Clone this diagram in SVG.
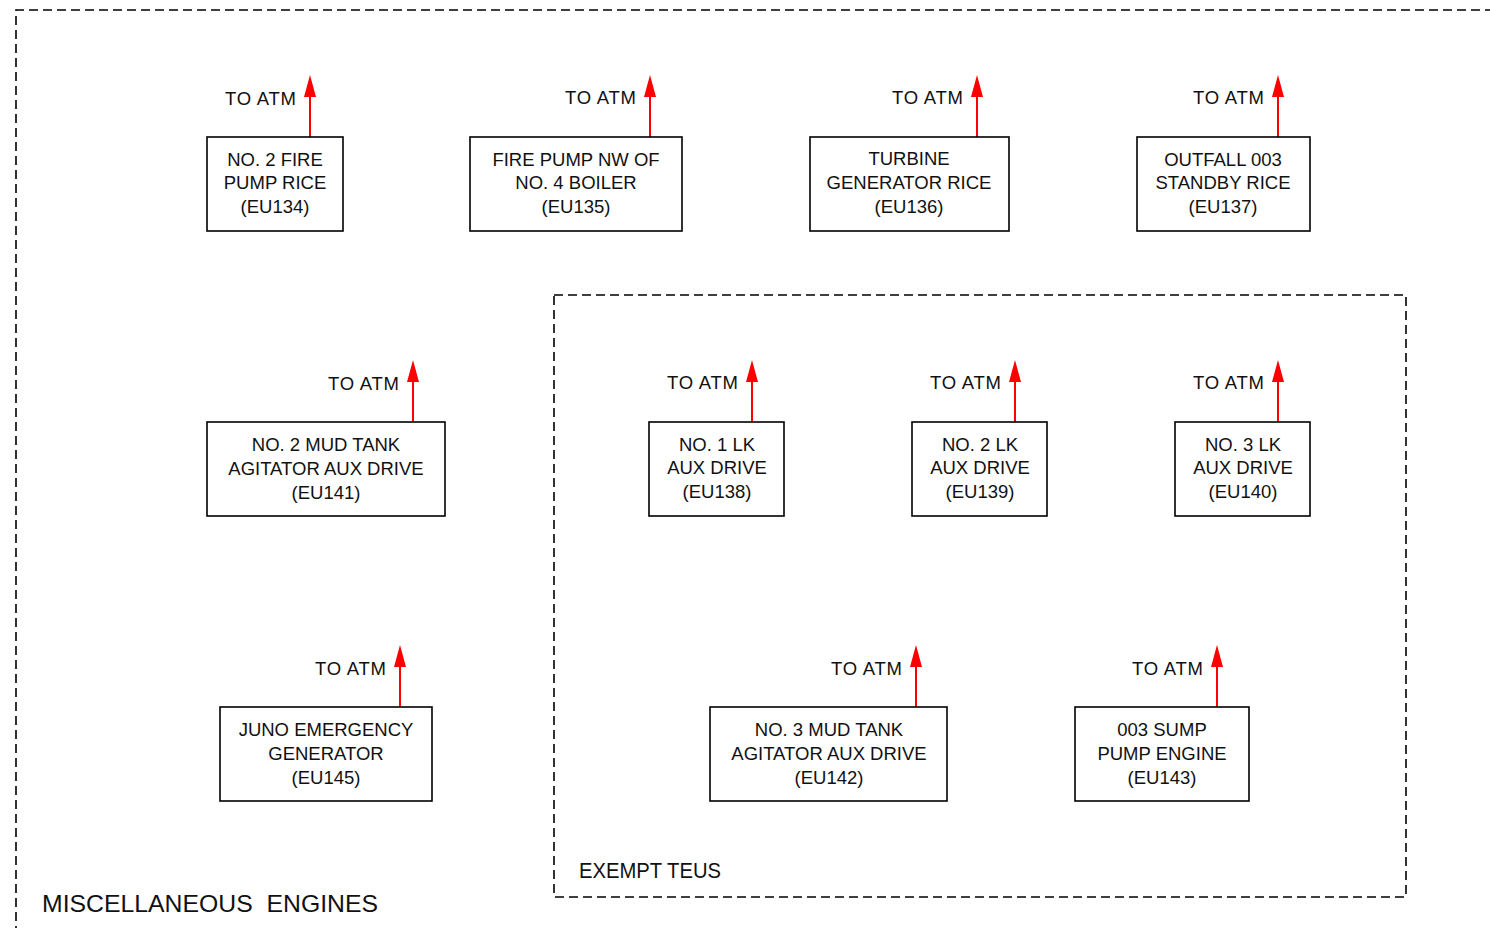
<svg xmlns="http://www.w3.org/2000/svg" width="1490" height="928" viewBox="0 0 1490 928">
<defs>
<style>
.b{fill:#fff;stroke:#000;stroke-width:1.6}
.t{font-family:"Liberation Sans",Arial,sans-serif;font-size:18.5px;fill:#111;text-anchor:middle}
.a{font-family:"Liberation Sans",Arial,sans-serif;font-size:18.5px;fill:#111;text-anchor:end}
.c{stroke:#ff0000;stroke-width:2;fill:none}
.h{fill:#ff0000}
.d{fill:none;stroke:#000;stroke-width:1.6;stroke-dasharray:9 5}
.l{font-family:"Liberation Sans",Arial,sans-serif;fill:#111;white-space:pre}
</style>
</defs>
<rect width="1490" height="928" fill="#fff"/>
<path class="d" d="M16,935 L16,10 L1500,10"/>
<rect class="d" x="554" y="295" width="852" height="602"/>
<text class="l" x="42" y="912" font-size="24" textLength="336" lengthAdjust="spacingAndGlyphs" xml:space="preserve">MISCELLANEOUS  ENGINES</text>
<text class="l" x="579" y="878" font-size="22" textLength="142" lengthAdjust="spacingAndGlyphs">EXEMPT TEUS</text>
<g id="connectors">
<line class="c" x1="310" y1="137" x2="310" y2="97"/><path class="h" d="M304,97 L310,75 L316,97 Z"/>
<line class="c" x1="650" y1="137" x2="650" y2="97"/><path class="h" d="M644,97 L650,75 L656,97 Z"/>
<line class="c" x1="977" y1="137" x2="977" y2="97"/><path class="h" d="M971,97 L977,75 L983,97 Z"/>
<line class="c" x1="1278" y1="137" x2="1278" y2="97"/><path class="h" d="M1272,97 L1278,75 L1284,97 Z"/>
<line class="c" x1="413" y1="422" x2="413" y2="382"/><path class="h" d="M407,382 L413,360 L419,382 Z"/>
<line class="c" x1="752" y1="422" x2="752" y2="382"/><path class="h" d="M746,382 L752,360 L758,382 Z"/>
<line class="c" x1="1015" y1="422" x2="1015" y2="382"/><path class="h" d="M1009,382 L1015,360 L1021,382 Z"/>
<line class="c" x1="1278" y1="422" x2="1278" y2="382"/><path class="h" d="M1272,382 L1278,360 L1284,382 Z"/>
<line class="c" x1="400" y1="707" x2="400" y2="667"/><path class="h" d="M394,667 L400,645 L406,667 Z"/>
<line class="c" x1="916" y1="707" x2="916" y2="667"/><path class="h" d="M910,667 L916,645 L922,667 Z"/>
<line class="c" x1="1217" y1="707" x2="1217" y2="667"/><path class="h" d="M1211,667 L1217,645 L1223,667 Z"/>
<text class="a" x="296" y="105" textLength="71">TO ATM</text>
<text class="a" x="636" y="104" textLength="71">TO ATM</text>
<text class="a" x="963" y="104" textLength="71">TO ATM</text>
<text class="a" x="1264" y="104" textLength="71">TO ATM</text>
<text class="a" x="399" y="390" textLength="71">TO ATM</text>
<text class="a" x="738" y="389" textLength="71">TO ATM</text>
<text class="a" x="1001" y="389" textLength="71">TO ATM</text>
<text class="a" x="1264" y="389" textLength="71">TO ATM</text>
<text class="a" x="386" y="675" textLength="71">TO ATM</text>
<text class="a" x="902" y="675" textLength="71">TO ATM</text>
<text class="a" x="1203" y="675" textLength="71">TO ATM</text>
</g>
<g id="eu134"><rect class="b" x="207" y="137" width="136" height="94"/>
<text class="t" x="275" y="166">NO. 2 FIRE</text><text class="t" x="275" y="189">PUMP RICE</text><text class="t" x="275" y="213">(EU134)</text></g>
<g id="eu135"><rect class="b" x="470" y="137" width="212" height="94"/>
<text class="t" x="576" y="166">FIRE PUMP NW OF</text><text class="t" x="576" y="189">NO. 4 BOILER</text><text class="t" x="576" y="213">(EU135)</text></g>
<g id="eu136"><rect class="b" x="810" y="137" width="199" height="94"/>
<text class="t" x="909" y="165">TURBINE</text><text class="t" x="909" y="189">GENERATOR RICE</text><text class="t" x="909" y="213">(EU136)</text></g>
<g id="eu137"><rect class="b" x="1137" y="137" width="173" height="94"/>
<text class="t" x="1223" y="166">OUTFALL 003</text><text class="t" x="1223" y="189">STANDBY RICE</text><text class="t" x="1223" y="213">(EU137)</text></g>
<g id="eu141"><rect class="b" x="207" y="422" width="238" height="94"/>
<text class="t" x="326" y="451">NO. 2 MUD TANK</text><text class="t" x="326" y="475">AGITATOR AUX DRIVE</text><text class="t" x="326" y="499">(EU141)</text></g>
<g id="eu138"><rect class="b" x="649" y="422" width="135" height="94"/>
<text class="t" x="717" y="451">NO. 1 LK</text><text class="t" x="717" y="474">AUX DRIVE</text><text class="t" x="717" y="498">(EU138)</text></g>
<g id="eu139"><rect class="b" x="912" y="422" width="135" height="94"/>
<text class="t" x="980" y="451">NO. 2 LK</text><text class="t" x="980" y="474">AUX DRIVE</text><text class="t" x="980" y="498">(EU139)</text></g>
<g id="eu140"><rect class="b" x="1175" y="422" width="135" height="94"/>
<text class="t" x="1243" y="451">NO. 3 LK</text><text class="t" x="1243" y="474">AUX DRIVE</text><text class="t" x="1243" y="498">(EU140)</text></g>
<g id="eu145"><rect class="b" x="220" y="707" width="212" height="94"/>
<text class="t" x="326" y="736">JUNO EMERGENCY</text><text class="t" x="326" y="760">GENERATOR</text><text class="t" x="326" y="784">(EU145)</text></g>
<g id="eu142"><rect class="b" x="710" y="707" width="237" height="94"/>
<text class="t" x="829" y="736">NO. 3 MUD TANK</text><text class="t" x="829" y="760">AGITATOR AUX DRIVE</text><text class="t" x="829" y="784">(EU142)</text></g>
<g id="eu143"><rect class="b" x="1075" y="707" width="174" height="94"/>
<text class="t" x="1162" y="736">003 SUMP</text><text class="t" x="1162" y="760">PUMP ENGINE</text><text class="t" x="1162" y="784">(EU143)</text></g>
</svg>
